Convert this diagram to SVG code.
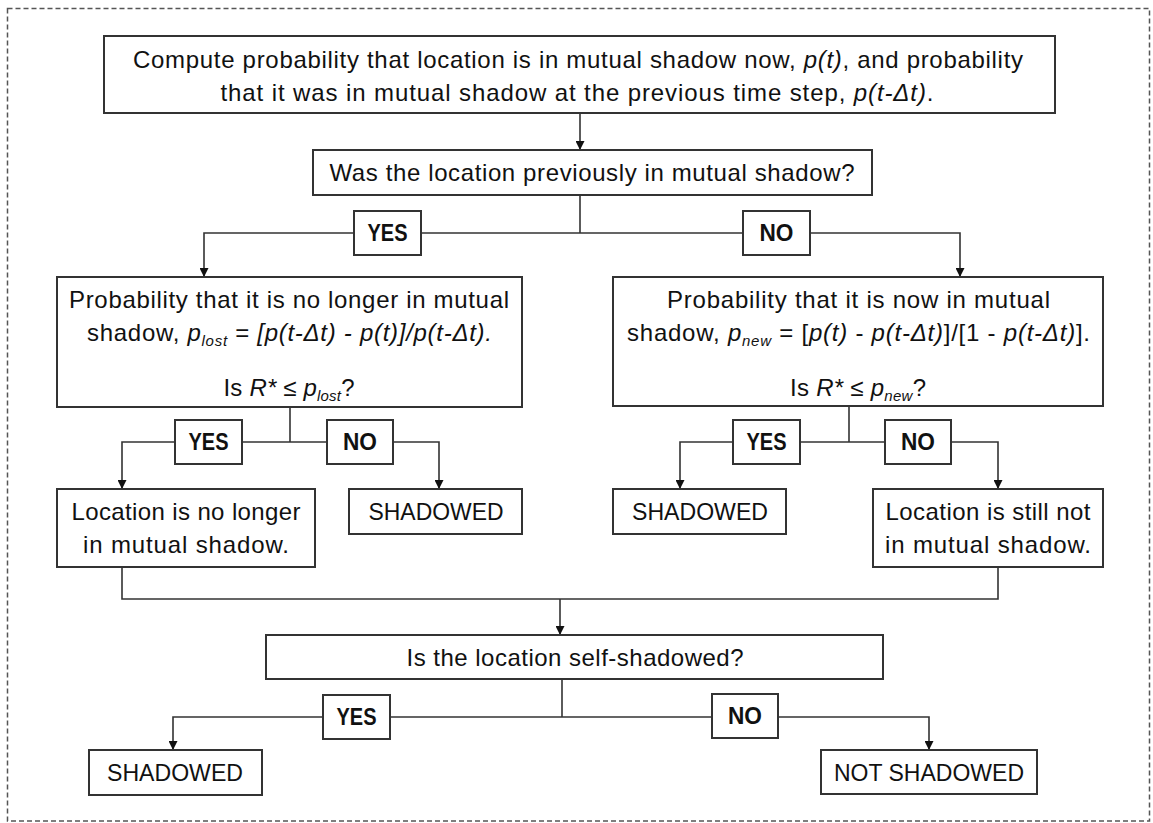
<svg xmlns="http://www.w3.org/2000/svg" width="1153" height="823" viewBox="0 0 1153 823">
<style>
text{font-family:"Liberation Sans",Arial,sans-serif;font-size:24px;fill:#111;text-anchor:middle}
.lbl{font-weight:bold;font-size:23px}
.i{font-style:italic}
.sub{font-size:15px;font-style:italic}
.box{fill:#fff;stroke:#333;stroke-width:2}
.ln{fill:none;stroke:#333;stroke-width:1.6}
</style>
<defs>
<marker id="ah" viewBox="0 0 10 10" refX="10" refY="5" markerWidth="9" markerHeight="9" markerUnits="userSpaceOnUse" orient="auto">
<path d="M0,0 L10,5 L0,10 Z" fill="#111"/>
</marker>
</defs>
<rect x="7.5" y="8.5" width="1142" height="812.5" fill="#fff" stroke="#555" stroke-width="1.5" stroke-dasharray="5,3"/>

<g id="connectors">
<path class="ln" d="M580,113 V150" marker-end="url(#ah)"/>
<path class="ln" d="M580,195 V233"/>
<path class="ln" d="M580,233 H204 V277" marker-end="url(#ah)"/>
<path class="ln" d="M580,233 H960 V277" marker-end="url(#ah)"/>
<path class="ln" d="M290,407 V442"/>
<path class="ln" d="M290,442 H122 V489" marker-end="url(#ah)"/>
<path class="ln" d="M290,442 H439 V489" marker-end="url(#ah)"/>
<path class="ln" d="M849,406 V442"/>
<path class="ln" d="M849,442 H680 V489" marker-end="url(#ah)"/>
<path class="ln" d="M849,442 H998 V489" marker-end="url(#ah)"/>
<path class="ln" d="M122,567 V599 H998 V567"/>
<path class="ln" d="M560,599 V635" marker-end="url(#ah)"/>
<path class="ln" d="M562,679 V717"/>
<path class="ln" d="M562,717 H173 V750" marker-end="url(#ah)"/>
<path class="ln" d="M562,717 H929 V750" marker-end="url(#ah)"/>
</g>

<g id="compute">
<rect class="box" x="104" y="36" width="951" height="77"/>
<text x="578" y="68" textLength="890" lengthAdjust="spacing">Compute probability that location is in mutual shadow now, <tspan class="i">p(t)</tspan>, and probability</text>
<text x="577" y="101" textLength="713" lengthAdjust="spacing">that it was in mutual shadow at the previous time step, <tspan class="i">p(t-Δt)</tspan>.</text>
</g>

<g id="prev">
<rect class="box" x="313" y="150" width="559" height="45"/>
<text x="592" y="181" textLength="525" lengthAdjust="spacing">Was the location previously in mutual shadow?</text>
</g>

<g id="yes1"><rect class="box" x="354" y="211" width="67" height="44"/><text class="lbl" x="387.5" y="241" textLength="40" lengthAdjust="spacingAndGlyphs">YES</text></g>
<g id="no1"><rect class="box" x="743" y="211" width="67" height="44"/><text class="lbl" x="776.5" y="241" textLength="34" lengthAdjust="spacingAndGlyphs">NO</text></g>

<g id="plost">
<rect class="box" x="57" y="277" width="465" height="130"/>
<text x="289" y="308" textLength="440" lengthAdjust="spacing">Probability that it is no longer in mutual</text>
<text x="289.5" y="341" textLength="405" lengthAdjust="spacing">shadow, <tspan class="i">p</tspan><tspan class="sub" dy="5">lost</tspan><tspan dy="-5"> = </tspan><tspan class="i">[p(t-Δt) - p(t)]/p(t-Δt).</tspan></text>
<text x="289" y="396" textLength="131" lengthAdjust="spacing">Is <tspan class="i">R*</tspan> ≤ <tspan class="i">p</tspan><tspan class="sub" dy="5">lost</tspan><tspan dy="-5">?</tspan></text>
</g>

<g id="pnew">
<rect class="box" x="613" y="277" width="490" height="129"/>
<text x="858.5" y="308" textLength="383" lengthAdjust="spacing">Probability that it is now in mutual</text>
<text x="858.5" y="341" textLength="463" lengthAdjust="spacing">shadow, <tspan class="i">p</tspan><tspan class="sub" dy="5">new</tspan><tspan dy="-5"> = [</tspan><tspan class="i">p(t)</tspan> - <tspan class="i">p(t-Δt)</tspan>]/[1 - <tspan class="i">p(t-Δt)</tspan>].</text>
<text x="858" y="396" textLength="136" lengthAdjust="spacing">Is <tspan class="i">R*</tspan> ≤ <tspan class="i">p</tspan><tspan class="sub" dy="5">new</tspan><tspan dy="-5">?</tspan></text>
</g>

<g id="yes2"><rect class="box" x="175" y="420" width="67" height="44"/><text class="lbl" x="208.5" y="450" textLength="40" lengthAdjust="spacingAndGlyphs">YES</text></g>
<g id="no2"><rect class="box" x="327" y="420" width="66" height="44"/><text class="lbl" x="360" y="450" textLength="34" lengthAdjust="spacingAndGlyphs">NO</text></g>
<g id="yes3"><rect class="box" x="733" y="420" width="67" height="44"/><text class="lbl" x="766.5" y="450" textLength="40" lengthAdjust="spacingAndGlyphs">YES</text></g>
<g id="no3"><rect class="box" x="885" y="420" width="66" height="44"/><text class="lbl" x="918" y="450" textLength="34" lengthAdjust="spacingAndGlyphs">NO</text></g>

<g id="nolonger">
<rect class="box" x="57" y="489" width="258" height="78"/>
<text x="186" y="520" textLength="229" lengthAdjust="spacing">Location is no longer</text>
<text x="186" y="553" textLength="206" lengthAdjust="spacing">in mutual shadow.</text>
</g>
<g id="shadowed1">
<rect class="box" x="349" y="489" width="173" height="45"/>
<text x="436" y="520" textLength="135" lengthAdjust="spacingAndGlyphs">SHADOWED</text>
</g>
<g id="shadowed2">
<rect class="box" x="613" y="489" width="173" height="45"/>
<text x="700" y="520" textLength="136" lengthAdjust="spacingAndGlyphs">SHADOWED</text>
</g>
<g id="stillnot">
<rect class="box" x="873" y="489" width="230" height="78"/>
<text x="988" y="520" textLength="205" lengthAdjust="spacing">Location is still not</text>
<text x="988" y="553" textLength="206" lengthAdjust="spacing">in mutual shadow.</text>
</g>

<g id="self">
<rect class="box" x="266" y="635" width="617" height="44"/>
<text x="575" y="666" textLength="337" lengthAdjust="spacing">Is the location self-shadowed?</text>
</g>

<g id="yes4"><rect class="box" x="323" y="695" width="67" height="44"/><text class="lbl" x="356.5" y="725" textLength="40" lengthAdjust="spacingAndGlyphs">YES</text></g>
<g id="no4"><rect class="box" x="712" y="694" width="66" height="44"/><text class="lbl" x="745" y="724" textLength="34" lengthAdjust="spacingAndGlyphs">NO</text></g>

<g id="shadowed3">
<rect class="box" x="89" y="750" width="173" height="45"/>
<text x="175" y="781" textLength="136" lengthAdjust="spacingAndGlyphs">SHADOWED</text>
</g>
<g id="notshadowed">
<rect class="box" x="821" y="750" width="216" height="44"/>
<text x="929" y="781" textLength="190" lengthAdjust="spacingAndGlyphs">NOT SHADOWED</text>
</g>
</svg>
